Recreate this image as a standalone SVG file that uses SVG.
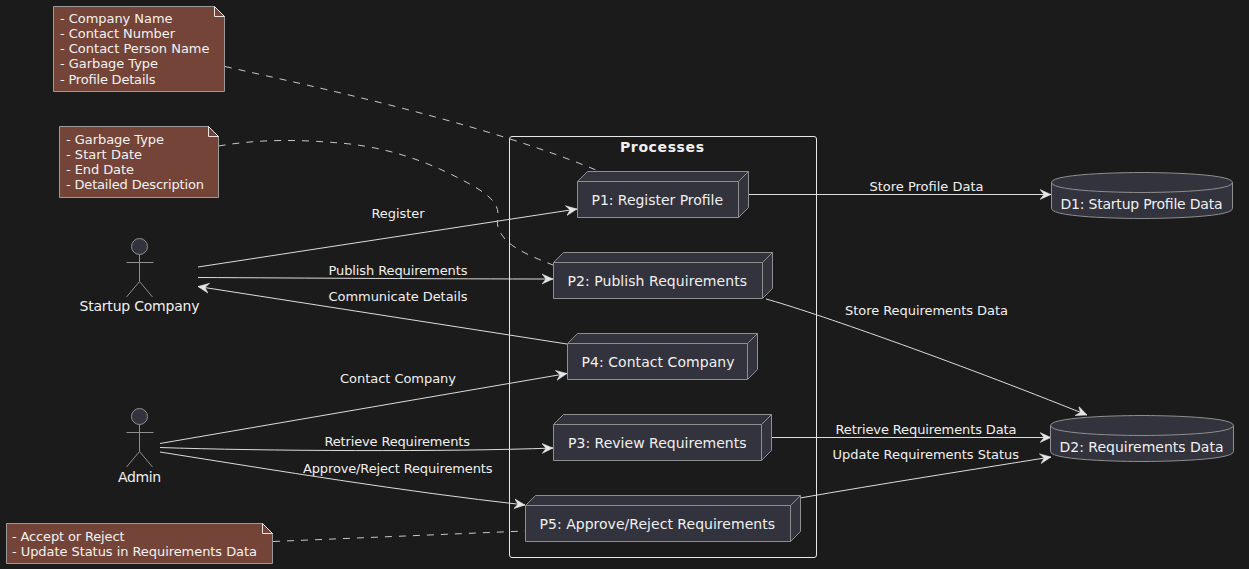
<svg xmlns="http://www.w3.org/2000/svg" width="1249" height="569" viewBox="0 0 1249 569">
<style>
text{font-family:"DejaVu Sans",sans-serif;fill:#f0f0f0;lengthAdjust:spacing}
.n{font-size:14px}
.e{font-size:13px}
.t{font-size:13px;fill:#f2f2f2}
.shape{fill:#32333c;stroke:#8f8f8f;stroke-width:1}
.open{fill:none;stroke:#8f8f8f;stroke-width:1}
.note{fill:#744438;stroke:#9a9a9a;stroke-width:1}
.fold{fill:#744438;stroke:#ebe6e4;stroke-width:1}
.line{fill:none;stroke:#dcdcdc;stroke-width:1}
.dash{fill:none;stroke:#c8c8c8;stroke-width:1;stroke-dasharray:7 7}
</style>
<defs>
<marker id="arr" markerUnits="userSpaceOnUse" markerWidth="12" markerHeight="12" refX="11" refY="5" orient="auto" viewBox="0 0 12 10"><path d="M0 0L11 5L0 10L4 5Z" fill="#e6e6e6" stroke="#e6e6e6" stroke-width="0.5"/></marker>
</defs>
<rect width="1249" height="569" fill="#1b1b1b"/>
<g id="frame-processes">
<rect x="509.5" y="136.5" width="307" height="421" rx="2.5" fill="none" stroke="#e8e8e8" stroke-width="1"/>
<text x="620" y="152" font-size="14" font-weight="bold" textLength="84">Processes</text>
</g>
<g id="connectors">
<path class="line" marker-end="url(#arr)" d="M198 267L577 209"/>
<path class="line" marker-end="url(#arr)" d="M198 277.500C300 278 450 279 553 279"/>
<path class="line" marker-end="url(#arr)" d="M567 344L198 286.500"/>
<path class="line" marker-end="url(#arr)" d="M160 443.500L567 373.500"/>
<path class="line" marker-end="url(#arr)" d="M160 447.500C260 451 450 452 553 448"/>
<path class="line" marker-end="url(#arr)" d="M160 452C280 471 400 491 525 505"/>
<path class="line" marker-end="url(#arr)" d="M749 194.500L1051 194.500"/>
<path class="line" marker-end="url(#arr)" d="M766 299C810 311 950 360 1087 415"/>
<path class="line" marker-end="url(#arr)" d="M772 437.500L1051 437.500"/>
<path class="line" marker-end="url(#arr)" d="M800 498C880 484 970 470 1051 457"/>
<path class="dash" d="M225 66.500C320 88 480 122 596 170"/>
<path class="dash" d="M218.500 146C260 139 300 139 350 144C400 150 440 167 475 187C490 196 498 204 498 214C497 224 496 228 505 239C515 250 535 258 553 265"/>
<path class="dash" d="M273 541.500L525 531"/>
<text class="e" x="371.500" y="218" textLength="53">Register</text>
<text class="e" x="328.500" y="275" textLength="139">Publish Requirements</text>
<text class="e" x="328.500" y="301" textLength="139">Communicate Details</text>
<text class="e" x="340" y="383" textLength="116">Contact Company</text>
<text class="e" x="324.500" y="446" textLength="145.500">Retrieve Requirements</text>
<text class="e" x="303" y="473" textLength="189.500">Approve/Reject Requirements</text>
<text class="e" x="869.500" y="191" textLength="114">Store Profile Data</text>
<text class="e" x="845" y="315" textLength="163">Store Requirements Data</text>
<text class="e" x="835.500" y="434" textLength="181">Retrieve Requirements Data</text>
<text class="e" x="832.500" y="459" textLength="186.500">Update Requirements Status</text>
</g>
<g id="note1">
<path class="note" d="M53.500 6.500H214.500L224.500 16.500V91.500H53.500Z"/>
<path class="fold" d="M214.500 6.500V16.500H224.500Z"/>
<text class="t" x="60" y="23" textLength="112.500">- Company Name</text>
<text class="t" x="60" y="38" textLength="115">- Contact Number</text>
<text class="t" x="60" y="53" textLength="149.500">- Contact Person Name</text>
<text class="t" x="60" y="68" textLength="98">- Garbage Type</text>
<text class="t" x="60" y="84" textLength="95.500">- Profile Details</text>
</g>
<g id="note2">
<path class="note" d="M59.500 126.500H208.500L218.500 136.500V197.500H59.500Z"/>
<path class="fold" d="M208.500 126.500V136.500H218.500Z"/>
<text class="t" x="66" y="144" textLength="98">- Garbage Type</text>
<text class="t" x="66" y="159" textLength="76">- Start Date</text>
<text class="t" x="66" y="174" textLength="68">- End Date</text>
<text class="t" x="66" y="189" textLength="138">- Detailed Description</text>
</g>
<g id="note3">
<path class="note" d="M6.500 523.500H262.500L272.500 533.500V563.500H6.500Z"/>
<path class="fold" d="M262.500 523.500V533.500H272.500Z"/>
<text class="t" x="12" y="541" textLength="112.500">- Accept or Reject</text>
<text class="t" x="12" y="556" textLength="245">- Update Status in Requirements Data</text>
</g>
<g id="actor-startup">
<circle class="shape" cx="139.500" cy="246.500" r="8"/>
<path class="open" d="M139.500 254.500V281.500M126.500 262.500H153.500M139.500 281.500L126.500 297M139.500 281.500L152.500 297"/>
<text class="n" x="79.500" y="311" textLength="120">Startup Company</text>
</g>
<g id="actor-admin">
<circle class="shape" cx="139.500" cy="416.500" r="8"/>
<path class="open" d="M139.500 424.500V451.500M126.500 432.500H153.500M139.500 451.500L126.500 467M139.500 451.500L152.500 467"/>
<text class="n" x="118" y="482" textLength="43">Admin</text>
</g>
<g id="p1">
<path class="shape" d="M577.500 181.500L587.500 171.500H748.500V207.500L738.500 217.500H577.500Z"/>
<path class="open" d="M577.500 181.500H738.500L748.500 171.500M738.500 181.500V217.500"/>
<text class="n" x="591.500" y="205" textLength="131.500">P1: Register Profile</text>
</g>
<g id="p2">
<path class="shape" d="M553.500 262.500L563.500 252.500H772.500V288.500L762.500 298.500H553.500Z"/>
<path class="open" d="M553.500 262.500H762.500L772.500 252.500M762.500 262.500V298.500"/>
<text class="n" x="567.500" y="286" textLength="179.500">P2: Publish Requirements</text>
</g>
<g id="p4">
<path class="shape" d="M567.500 343.500L577.500 333.500H757.500V369.500L747.500 379.500H567.500Z"/>
<path class="open" d="M567.500 343.500H747.500L757.500 333.500M747.500 343.500V379.500"/>
<text class="n" x="581.500" y="367" textLength="153">P4: Contact Company</text>
</g>
<g id="p3">
<path class="shape" d="M553.500 424.500L563.500 414.500H771.500V450.500L761.500 460.500H553.500Z"/>
<path class="open" d="M553.500 424.500H761.500L771.500 414.500M761.500 424.500V460.500"/>
<text class="n" x="568" y="448" textLength="178.500">P3: Review Requirements</text>
</g>
<g id="p5">
<path class="shape" d="M525.500 505.500L535.500 495.500H800.500V531.500L790.500 541.500H525.500Z"/>
<path class="open" d="M525.500 505.500H790.500L800.500 495.500M790.500 505.500V541.500"/>
<text class="n" x="539.500" y="529" textLength="235.500">P5: Approve/Reject Requirements</text>
</g>
<g id="d1">
<path class="shape" d="M1051.500 182.500C1051.500 172.500 1142 172.500 1142 172.500C1142 172.500 1232.500 172.500 1232.500 182.500V208.500C1232.500 218.500 1142 218.500 1142 218.500C1142 218.500 1051.500 218.500 1051.500 208.500Z"/>
<path class="open" d="M1051.500 182.500C1051.500 192.500 1142 192.500 1142 192.500C1142 192.500 1232.500 192.500 1232.500 182.500"/>
<text class="n" x="1060.500" y="209" textLength="162">D1: Startup Profile Data</text>
</g>
<g id="d2">
<path class="shape" d="M1050.500 425.500C1050.500 415.500 1142 415.500 1142 415.500C1142 415.500 1233.500 415.500 1233.500 425.500V451.500C1233.500 461.500 1142 461.500 1142 461.500C1142 461.500 1050.500 461.500 1050.500 451.500Z"/>
<path class="open" d="M1050.500 425.500C1050.500 435.500 1142 435.500 1142 435.500C1142 435.500 1233.500 435.500 1233.500 425.500"/>
<text class="n" x="1059.500" y="452" textLength="164">D2: Requirements Data</text>
</g>
</svg>
